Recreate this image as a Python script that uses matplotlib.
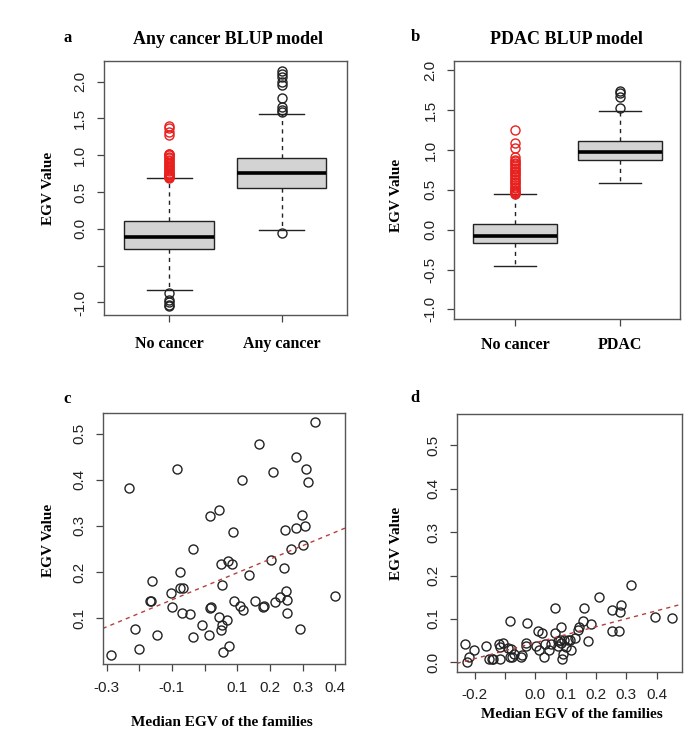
"""EGV boxplots (any cancer / PDAC BLUP) and family-median scatter panels."""

import matplotlib
matplotlib.use("Agg")
import matplotlib.pyplot as plt

SERIF = "Liberation Serif"
SANS = "Liberation Sans"

# ---- panel a: any cancer BLUP model ----
a_groups = ["No cancer", "Any cancer"]
a_med = [-0.11, 0.76]
a_q1 = [-0.27, 0.56]
a_q3 = [0.11, 0.96]
a_whislo = [-0.83, -0.02]
a_whishi = [0.685, 1.56]
a_nocancer_hi = [0.69, 0.70, 0.71, 0.72, 0.73, 0.74, 0.75, 0.76, 0.78, 0.80, 0.82,
                 0.84, 0.86, 0.88, 0.90, 0.92, 0.94, 0.96, 0.98, 1.00, 1.01, 1.02,
                 1.28, 1.31, 1.37, 1.40]
a_nocancer_lo = [-0.87, -0.97, -1.00, -1.03, -1.05]
a_anycancer_out = [-0.06, 1.59, 1.62, 1.66, 1.78, 1.96, 1.99, 2.06, 2.10, 2.15]
a_yticks = [-1.0, -0.5, 0.0, 0.5, 1.0, 1.5, 2.0]
a_yticklabels = ["-1.0", "", "0.0", "0.5", "1.0", "1.5", "2.0"]

# ---- panel b: PDAC BLUP model ----
b_groups = ["No cancer", "PDAC"]
b_med = [-0.08, 0.98]
b_q1 = [-0.17, 0.88]
b_q3 = [0.07, 1.11]
b_whislo = [-0.46, 0.59]
b_whishi = [0.45, 1.49]
b_nocancer_hi = [0.45, 0.46, 0.47, 0.48, 0.50, 0.52, 0.54, 0.56, 0.58, 0.60, 0.62,
                 0.64, 0.66, 0.68, 0.70, 0.72, 0.74, 0.76, 0.78, 0.80, 0.82, 0.84,
                 0.86, 0.88, 0.91, 1.02, 1.09, 1.25]
b_pdac_out = [1.53, 1.67, 1.71, 1.74]
b_yticks = [-1.0, -0.5, 0.0, 0.5, 1.0, 1.5, 2.0]
b_yticklabels = ["-1.0", "-0.5", "0.0", "0.5", "1.0", "1.5", "2.0"]

# ---- panel c: any cancer, family median vs EGV ----
c_x = [-0.285, -0.231, -0.214, -0.200, -0.168, -0.165, -0.162, -0.146, -0.102, -0.101,
       -0.084, -0.075, -0.067, -0.074, -0.069, -0.044, -0.035, -0.035, -0.007, 0.014,
       0.016, 0.019, 0.018, 0.043, 0.045, 0.049, 0.050, 0.053, 0.054, 0.057,
       0.069, 0.072, 0.075, 0.083, 0.086, 0.089, 0.110, 0.116, 0.117, 0.136,
       0.156, 0.167, 0.179, 0.183, 0.204, 0.210, 0.215, 0.230, 0.242, 0.246,
       0.249, 0.251, 0.253, 0.264, 0.279, 0.280, 0.292, 0.298, 0.301, 0.308,
       0.311, 0.318, 0.337, 0.398]
c_y = [0.021, 0.381, 0.077, 0.034, 0.138, 0.137, 0.181, 0.064, 0.155, 0.125,
       0.423, 0.166, 0.166, 0.200, 0.112, 0.108, 0.250, 0.060, 0.086, 0.064,
       0.121, 0.125, 0.321, 0.102, 0.334, 0.074, 0.217, 0.086, 0.171, 0.027,
       0.095, 0.223, 0.040, 0.217, 0.286, 0.137, 0.127, 0.400, 0.117, 0.194,
       0.138, 0.478, 0.124, 0.127, 0.225, 0.417, 0.135, 0.146, 0.208, 0.292,
       0.158, 0.140, 0.112, 0.250, 0.450, 0.296, 0.076, 0.323, 0.259, 0.300,
       0.423, 0.394, 0.524, 0.147]
c_intercept, c_slope = 0.169, 0.293
c_xticks = [-0.3, -0.2, -0.1, 0.0, 0.1, 0.2, 0.3, 0.4]
c_xticklabels = ["-0.3", "", "-0.1", "", "0.1", "0.2", "0.3", "0.4"]
c_yticks = [0.1, 0.2, 0.3, 0.4, 0.5]

# ---- panel d: PDAC, family median vs EGV ----
d_x = [-0.233, -0.225, -0.220, -0.202, -0.164, -0.153, -0.145, -0.140, -0.121, -0.118,
       -0.117, -0.106, -0.091, -0.085, -0.084, -0.082, -0.077, -0.072, -0.048, -0.045,
       -0.027, -0.030, -0.030, 0.002, 0.009, 0.013, 0.021, 0.027, 0.032, 0.044,
       0.050, 0.063, 0.066, 0.073, 0.074, 0.080, 0.086, 0.085, 0.087, 0.090,
       0.093, 0.101, 0.106, 0.113, 0.119, 0.129, 0.140, 0.143, 0.158, 0.160,
       0.172, 0.185, 0.210, 0.252, 0.254, 0.277, 0.278, 0.281, 0.317, 0.396, 0.452]
d_y = [0.041, 0.000, 0.012, 0.028, 0.038, 0.008, 0.008, 0.008, 0.041, 0.008,
       0.035, 0.045, 0.033, 0.095, 0.011, 0.031, 0.011, 0.019, 0.012, 0.016,
       0.091, 0.038, 0.045, 0.038, 0.071, 0.028, 0.067, 0.011, 0.043, 0.028,
       0.041, 0.125, 0.067, 0.049, 0.038, 0.051, 0.082, 0.045, 0.008, 0.020,
       0.051, 0.034, 0.051, 0.051, 0.028, 0.055, 0.075, 0.082, 0.095, 0.125,
       0.050, 0.087, 0.150, 0.121, 0.073, 0.073, 0.115, 0.131, 0.179, 0.105, 0.103]
d_intercept, d_slope = 0.045, 0.184
d_xticks = [-0.2, -0.1, 0.0, 0.1, 0.2, 0.3, 0.4]
d_xticklabels = ["-0.2", "", "0.0", "0.1", "0.2", "0.3", "0.4"]
d_yticks = [0.0, 0.1, 0.2, 0.3, 0.4, 0.5]


def _style_axes(ax):
    for sp in ax.spines.values():
        sp.set_color("#555555")
        sp.set_linewidth(1.0)
    ax.tick_params(length=5, width=0.9, color="#444444", labelcolor="#222222")
    ax.tick_params(axis="y", pad=7)
    for lab in ax.get_yticklabels():
        lab.set_rotation(90)
        lab.set_va("center")
        lab.set_family(SANS)
        lab.set_fontsize(11)


def _boxplot(ax, med, q1, q3, lo, hi):
    stats = [dict(med=m, q1=a, q3=b, whislo=l, whishi=h, fliers=[])
             for m, a, b, l, h in zip(med, q1, q3, lo, hi)]
    ax.bxp(stats, positions=[1, 2], widths=0.8, patch_artist=True, showfliers=False,
           boxprops=dict(facecolor="#D3D3D3", edgecolor="#222222", linewidth=1.0),
           medianprops=dict(color="black", linewidth=2.6),
           whiskerprops=dict(color="#222222", linewidth=1.0, linestyle=(0, (3, 3))),
           capprops=dict(color="#222222", linewidth=1.0))


def _fliers(ax, pos, values, color):
    ax.plot([pos] * len(values), values, "o", markerfacecolor="none",
            markeredgecolor=color, markersize=6.5, markeredgewidth=1.0)


fig = plt.figure(figsize=(6.85, 7.41), dpi=100)

ax_a = fig.add_axes([0.1518, 0.5749, 0.3543, 0.3428])
ax_b = fig.add_axes([0.6632, 0.5695, 0.3300, 0.3486])
ax_c = fig.add_axes([0.1499, 0.1035, 0.3537, 0.3395])
ax_d = fig.add_axes([0.6667, 0.0935, 0.3294, 0.3474])

# a
_boxplot(ax_a, a_med, a_q1, a_q3, a_whislo, a_whishi)
_fliers(ax_a, 1, a_nocancer_hi, "#E8201E")
_fliers(ax_a, 1, a_nocancer_lo, "#222222")
_fliers(ax_a, 2, a_anycancer_out, "#222222")
ax_a.set_xlim(0.42, 2.58)
ax_a.set_ylim(-1.17, 2.28)
ax_a.set_yticks(a_yticks, a_yticklabels)
ax_a.set_xticks([1, 2], a_groups)

# b
_boxplot(ax_b, b_med, b_q1, b_q3, b_whislo, b_whishi)
_fliers(ax_b, 1, b_nocancer_hi, "#E8201E")
_fliers(ax_b, 2, b_pdac_out, "#222222")
ax_b.set_xlim(0.42, 2.58)
ax_b.set_ylim(-1.12, 2.12)
ax_b.set_yticks(b_yticks, b_yticklabels)
ax_b.set_xticks([1, 2], b_groups)

for ax, pad in ((ax_a, 10), (ax_b, 8)):
    _style_axes(ax)
    ax.tick_params(axis="x", pad=pad)
    for lab in ax.get_xticklabels():
        lab.set_family(SERIF)
        lab.set_fontweight("bold")
        lab.set_fontsize(11.5)
        lab.set_color("black")

# c
ax_c.plot(c_x, c_y, "o", markerfacecolor="none", markeredgecolor="#222222",
          markersize=6.5, markeredgewidth=1.0)
ax_c.axline((0, c_intercept), slope=c_slope, color="#B5403F", linewidth=1.0,
            linestyle=(0, (3, 3)))
ax_c.set_xlim(-0.312, 0.43)
ax_c.set_ylim(0.0, 0.545)
ax_c.set_xticks(c_xticks, c_xticklabels)
ax_c.set_yticks(c_yticks, [f"{v:.1f}" for v in c_yticks])

# d
ax_d.plot(d_x, d_y, "o", markerfacecolor="none", markeredgecolor="#222222",
          markersize=6.5, markeredgewidth=1.0)
ax_d.axline((0, d_intercept), slope=d_slope, color="#B5403F", linewidth=1.0,
            linestyle=(0, (3, 3)))
ax_d.set_xlim(-0.26, 0.485)
ax_d.set_ylim(-0.022, 0.572)
ax_d.set_xticks(d_xticks, d_xticklabels)
ax_d.set_yticks(d_yticks, [f"{v:.1f}" for v in d_yticks])

for ax in (ax_c, ax_d):
    _style_axes(ax)
    ax.tick_params(axis="x", pad=7)
    for lab in ax.get_xticklabels():
        lab.set_family(SANS)
        lab.set_fontsize(11)

W, H = 685.0, 741.0


def ftext(x, y, s, **kw):
    fig.text(x / W, 1 - y / H, s, ha="center", va="center", family=SERIF,
             fontweight="bold", **kw)


ftext(68, 38, "a", fontsize=12)
ftext(415, 37, "b", fontsize=12)
ftext(67, 399, "c", fontsize=12)
ftext(415, 398, "d", fontsize=12)
ftext(228, 40, "Any cancer BLUP model", fontsize=13)
ftext(566, 40, "PDAC BLUP model", fontsize=13)
ftext(49, 188, "EGV Value", fontsize=11, rotation=90)
ftext(396, 195, "EGV Value", fontsize=11, rotation=90)
ftext(49, 540, "EGV Value", fontsize=11, rotation=90)
ftext(396, 543, "EGV Value", fontsize=11, rotation=90)
ftext(222, 723, "Median EGV of the families", fontsize=11)
ftext(572, 714, "Median EGV of the families", fontsize=11)

fig.savefig("out.png", dpi=100)
